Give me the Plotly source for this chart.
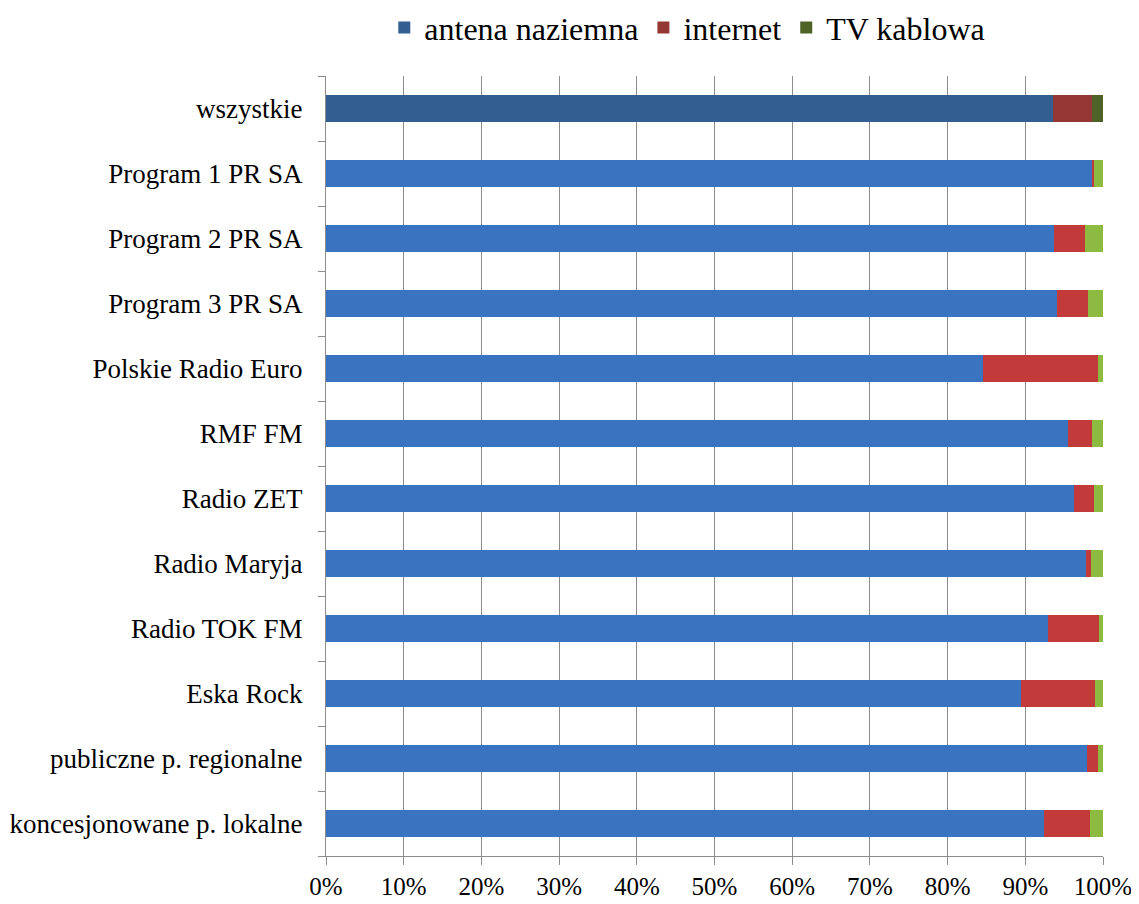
import plotly.graph_objects as go

categories = ["wszystkie", "Program 1 PR SA", "Program 2 PR SA", "Program 3 PR SA",
              "Polskie Radio Euro", "RMF FM", "Radio ZET", "Radio Maryja",
              "Radio TOK FM", "Eska Rock", "publiczne p. regionalne",
              "koncesjonowane p. lokalne"]
antena = [93.5, 98.6, 93.7, 94.1, 84.5, 95.5, 96.3, 97.8, 92.9, 89.4, 98.0, 92.4]
internet = [5.1, 0.3, 4.0, 4.0, 14.8, 3.1, 2.5, 0.7, 6.6, 9.6, 1.3, 5.9]
tv_kablowa = [1.4, 1.1, 2.3, 1.9, 0.7, 1.4, 1.2, 1.5, 0.5, 1.0, 0.7, 1.7]
series_names = ["antena naziemna", "internet", "TV kablowa"]
x_ticks = [0, 10, 20, 30, 40, 50, 60, 70, 80, 90, 100]

base_colors = ["#3A73BF", "#C23B3A", "#8DBA41"]
dark_colors = ["#335E92", "#953735", "#4F6228"]
SERIF = "Liberation Serif"

fig = go.Figure()
for name, vals, c, dc in zip(series_names, [antena, internet, tv_kablowa], base_colors, dark_colors):
    cols = [dc if cat == "wszystkie" else c for cat in categories]
    fig.add_trace(go.Bar(
        y=categories, x=vals, name=name, orientation="h",
        marker=dict(color=cols, line=dict(width=0)),
        width=0.42,
    ))

fig.update_layout(
    barmode="stack",
    width=1131, height=896,
    margin=dict(l=318, r=36, t=68, b=48, autoexpand=False),
    paper_bgcolor="white", plot_bgcolor="white",
    font=dict(family=SERIF, color="black", size=24),
    legend=dict(orientation="h", x=0.465, xanchor="center", y=1.062, yanchor="middle",
                font=dict(family=SERIF, size=32, color="black"), traceorder="normal"),
    showlegend=True,
)
fig.update_xaxes(
    range=[0, 100], tickvals=x_ticks, ticktext=[f"{v}%" for v in x_ticks],
    showgrid=True, gridcolor="#8C8C8C", gridwidth=1,
    showline=True, linecolor="#8C8C8C", linewidth=1,
    ticks="outside", ticklen=8, tickcolor="#8C8C8C",
    tickfont=dict(family=SERIF, size=25, color="black"), ticklabelstandoff=0,
    zeroline=False, automargin=False,
)
fig.update_yaxes(
    categoryorder="array", categoryarray=categories[::-1],
    showline=True, linecolor="#8C8C8C", linewidth=1,
    ticks="outside", ticklen=7, tickcolor="#8C8C8C", tickson="boundaries",
    tickfont=dict(family=SERIF, size=27, color="black"), ticklabelstandoff=17,
    showgrid=False, automargin=False,
)

fig.write_html("out.html")
